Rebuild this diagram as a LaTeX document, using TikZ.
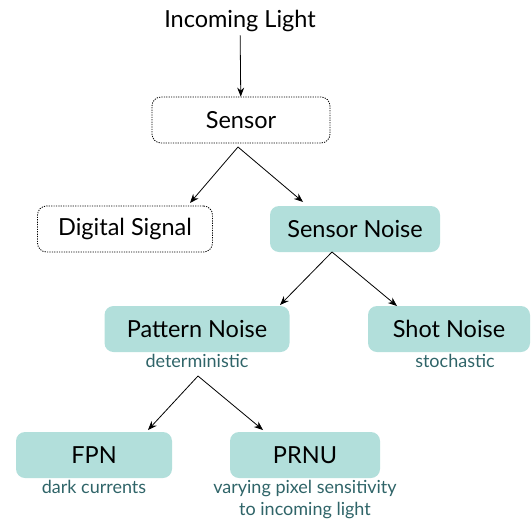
\documentclass[tikz,border=0pt]{standalone}
\usepackage{fontspec}
\setmainfont{Lato}
\usepackage{tikz}
\usetikzlibrary{arrows.meta}
\definecolor{noisefill}{HTML}{B2DFDB}
\definecolor{notecol}{HTML}{2F6468}

\begin{document}
\begin{tikzpicture}[x=1pt,y=-1pt,
  box/.style={rounded corners=9pt, minimum height=46pt, font=\fontsize{23.5}{26}\selectfont},
  dotbox/.style={box, draw, dash pattern=on 1.2pt off 1.2pt, line width=0.8pt},
  noisebox/.style={box, fill=noisefill},
  note/.style={text=notecol, font=\fontsize{18}{22}\selectfont, align=center, inner sep=2pt},
  arr/.style={-{Stealth[length=9pt,width=7pt]}, line width=0.8pt}]
\useasboundingbox (0,0) rectangle (532,522);
\node[font=\fontsize{23.5}{26}\selectfont] (light) at (240,21) {Incoming Light};
\node[dotbox, minimum width=178pt] (sensor) at (241,120) {Sensor};
\node[dotbox, minimum width=175pt] (digital) at (125,229) {Digital Signal};
\node[noisebox, minimum width=170pt] (sensnoise) at (355,229) {Sensor Noise};
\node[noisebox, minimum width=185pt] (pattern) at (197,329) {Pattern Noise};
\node[noisebox, minimum width=162pt] (shot) at (449,329) {Shot Noise};
\node[noisebox, minimum width=156pt] (fpn) at (94,455) {FPN};
\node[noisebox, minimum width=150pt] (prnu) at (305,455) {PRNU};
\node[note, anchor=north] (det) at (197,352) {deterministic};
\node[note, anchor=north] (sto) at (455,352) {stochastic};
\node[note, anchor=north] (dark) at (94,478) {dark currents};
\node[note, anchor=north] (vary) at (305,478) {varying pixel sensitivity\\to incoming light};
% branch points and arrow ends
\coordinate (s0) at (238,147);
\coordinate (s1) at (190,203);
\coordinate (s2) at (303,202);
\coordinate (n0) at (332,252);
\coordinate (n1) at (280,305);
\coordinate (n2) at (397,306);
\coordinate (p0) at (198,376);
\coordinate (p1) at (148,430);
\coordinate (p2) at (263,430);
\draw[arr] (light) -- (sensor);
\draw[arr] (s0) -- (s1);
\draw[arr] (s0) -- (s2);
\draw[arr] (n0) -- (n1);
\draw[arr] (n0) -- (n2);
\draw[arr] (p0) -- (p1);
\draw[arr] (p0) -- (p2);
\end{tikzpicture}
\end{document}
